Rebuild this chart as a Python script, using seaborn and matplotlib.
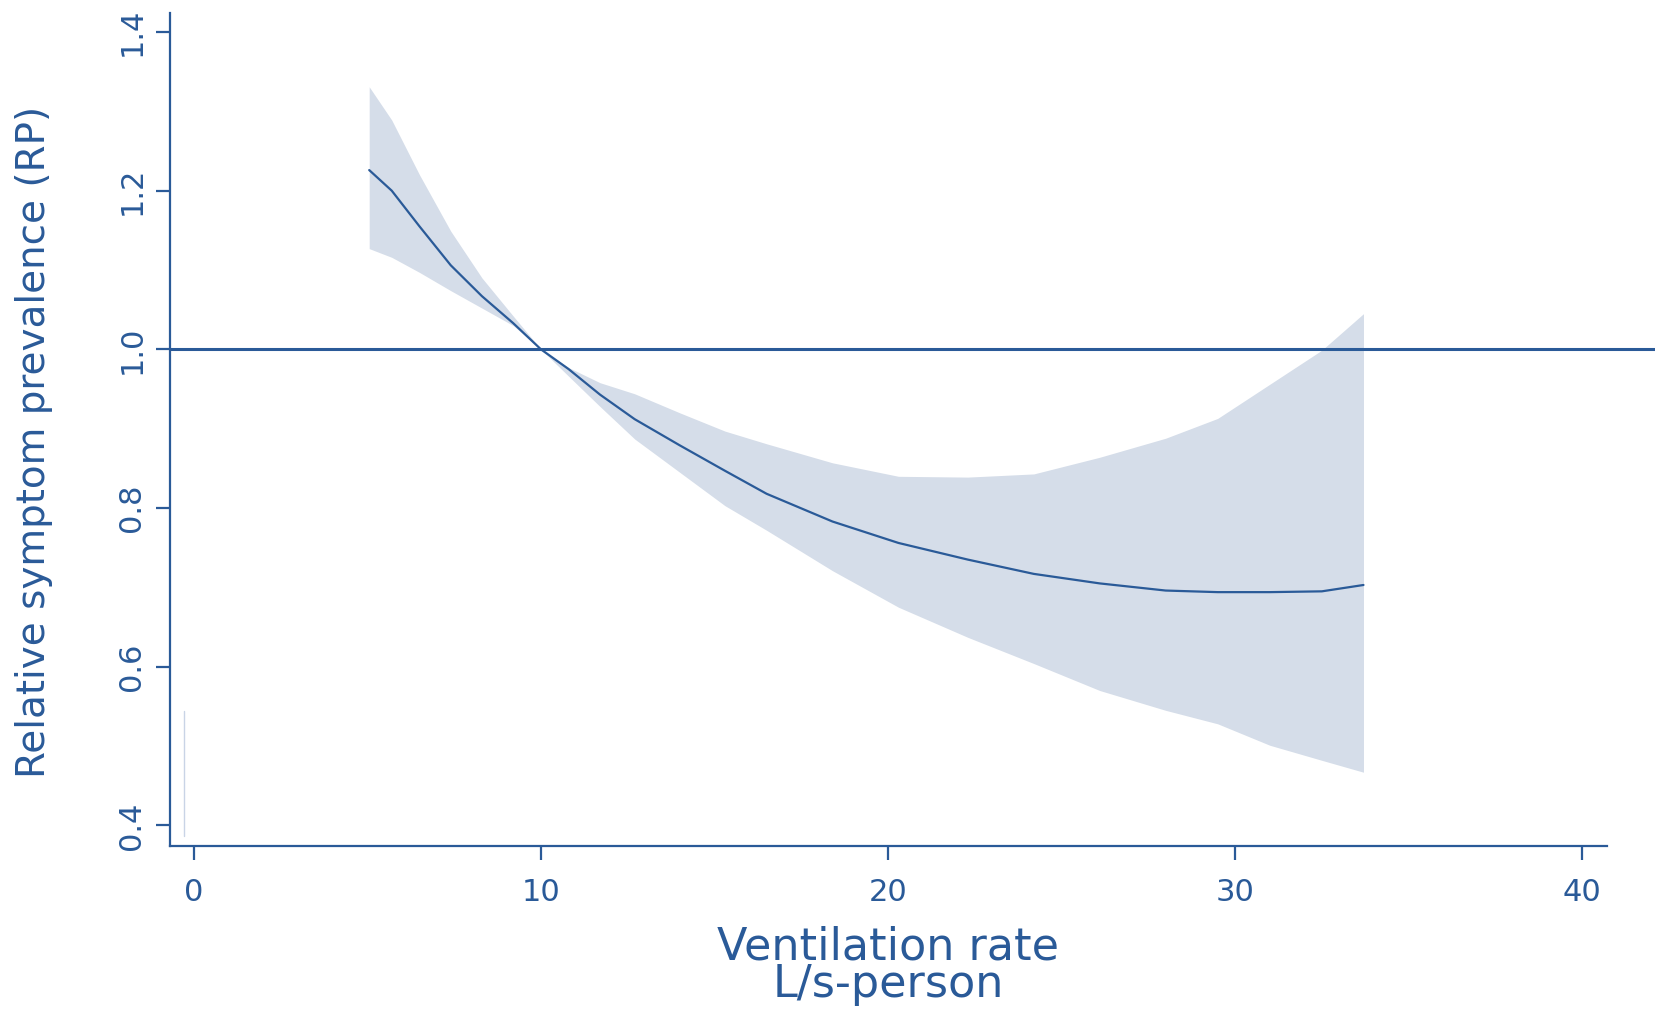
import matplotlib
matplotlib.use("Agg")
import matplotlib.pyplot as plt
import seaborn as sns
import numpy as np
import pandas as pd

# ---- data ----
vent_rate = [5.05, 5.7, 6.5, 7.4, 8.3, 9.2, 10.0, 10.8, 11.7, 12.7, 14.0, 15.3,
             16.5, 18.4, 20.3, 22.3, 24.2, 26.1, 28.0, 29.5, 31.0, 32.5, 33.7]
rp_est = [1.226, 1.200, 1.155, 1.106, 1.067, 1.033, 1.000, 0.975, 0.943, 0.912, 0.879, 0.847,
          0.818, 0.783, 0.756, 0.735, 0.717, 0.705, 0.696, 0.694, 0.694, 0.695, 0.703]
rp_upper = [1.331, 1.289, 1.220, 1.149, 1.090, 1.042, 1.000, 0.977, 0.958, 0.944, 0.920, 0.897,
            0.881, 0.857, 0.840, 0.839, 0.843, 0.864, 0.888, 0.913, 0.956, 0.999, 1.045]
rp_lower = [1.127, 1.116, 1.097, 1.074, 1.052, 1.030, 1.000, 0.966, 0.928, 0.887, 0.845, 0.803,
            0.772, 0.721, 0.675, 0.637, 0.604, 0.570, 0.545, 0.528, 0.501, 0.482, 0.467]
reference_rp = 1.0
faint_x = [-0.29, -0.29]
faint_y = [0.386, 0.544]

x_ticks = [0, 10, 20, 30, 40]
x_tick_labels = ["0", "10", "20", "30", "40"]
y_ticks = [0.4, 0.6, 0.8, 1.0, 1.2, 1.4]
y_tick_labels = ["0.4", "0.6", "0.8", "1.0", "1.2", "1.4"]

df = pd.DataFrame({"x": vent_rate, "y": rp_est})

# ---- styling ----
sns.set_style("ticks")
plt.rcParams["font.family"] = ["DejaVu Sans"]
BLUE = "#2a5a98"
FILL = "#d5dde9"

fig = plt.figure(figsize=(16.65, 10.11), dpi=100)
ax = fig.add_axes([170 / 1665, 1 - 846 / 1011, (1655 - 170) / 1665, (846 - 13) / 1011])

ax.fill_between(vent_rate, rp_lower, rp_upper, color=FILL, lw=0, zorder=1)
sns.lineplot(data=df, x="x", y="y", ax=ax, color=BLUE, lw=1.6, zorder=3)
ax.axhline(reference_rp, color=BLUE, lw=2.2, zorder=4)
ax.plot(faint_x, faint_y, color="#c9d4e6", lw=1.0, zorder=2)

ax.set_xlim(-0.69, 42.1)
ax.set_ylim(0.374, 1.424)

ax.set_xticks(x_ticks)
ax.set_xticklabels(x_tick_labels)
ax.set_yticks(y_ticks)
ax.set_yticklabels(y_tick_labels, rotation=90, va="center")

for s in ["top", "right"]:
    ax.spines[s].set_visible(False)
for s in ["left", "bottom"]:
    ax.spines[s].set_color(BLUE)
    ax.spines[s].set_linewidth(1.6)
ax.spines["bottom"].set_bounds(-0.69, 40.72)

ax.tick_params(axis="both", colors=BLUE, labelcolor=BLUE, direction="out",
               length=10, width=1.6, labelsize=22)
ax.tick_params(axis="y", pad=7)
ax.tick_params(axis="x", pad=13)

ax.set_xlabel("Ventilation rate\nL/s-person", color=BLUE, fontsize=32,
              linespacing=0.85)
ax.xaxis.set_label_coords((888 - 170) / (1655 - 170), -0.095)
ax.xaxis.label.set_va("top")
ax.set_ylabel("Relative symptom prevalence (RP)", color=BLUE, fontsize=28)
ax.yaxis.set_label_coords(-(170 - 34) / (1655 - 170), (846 - 442) / (846 - 13))
ax.yaxis.label.set_va("center")

fig.savefig("out.png", dpi=100, facecolor="white")
